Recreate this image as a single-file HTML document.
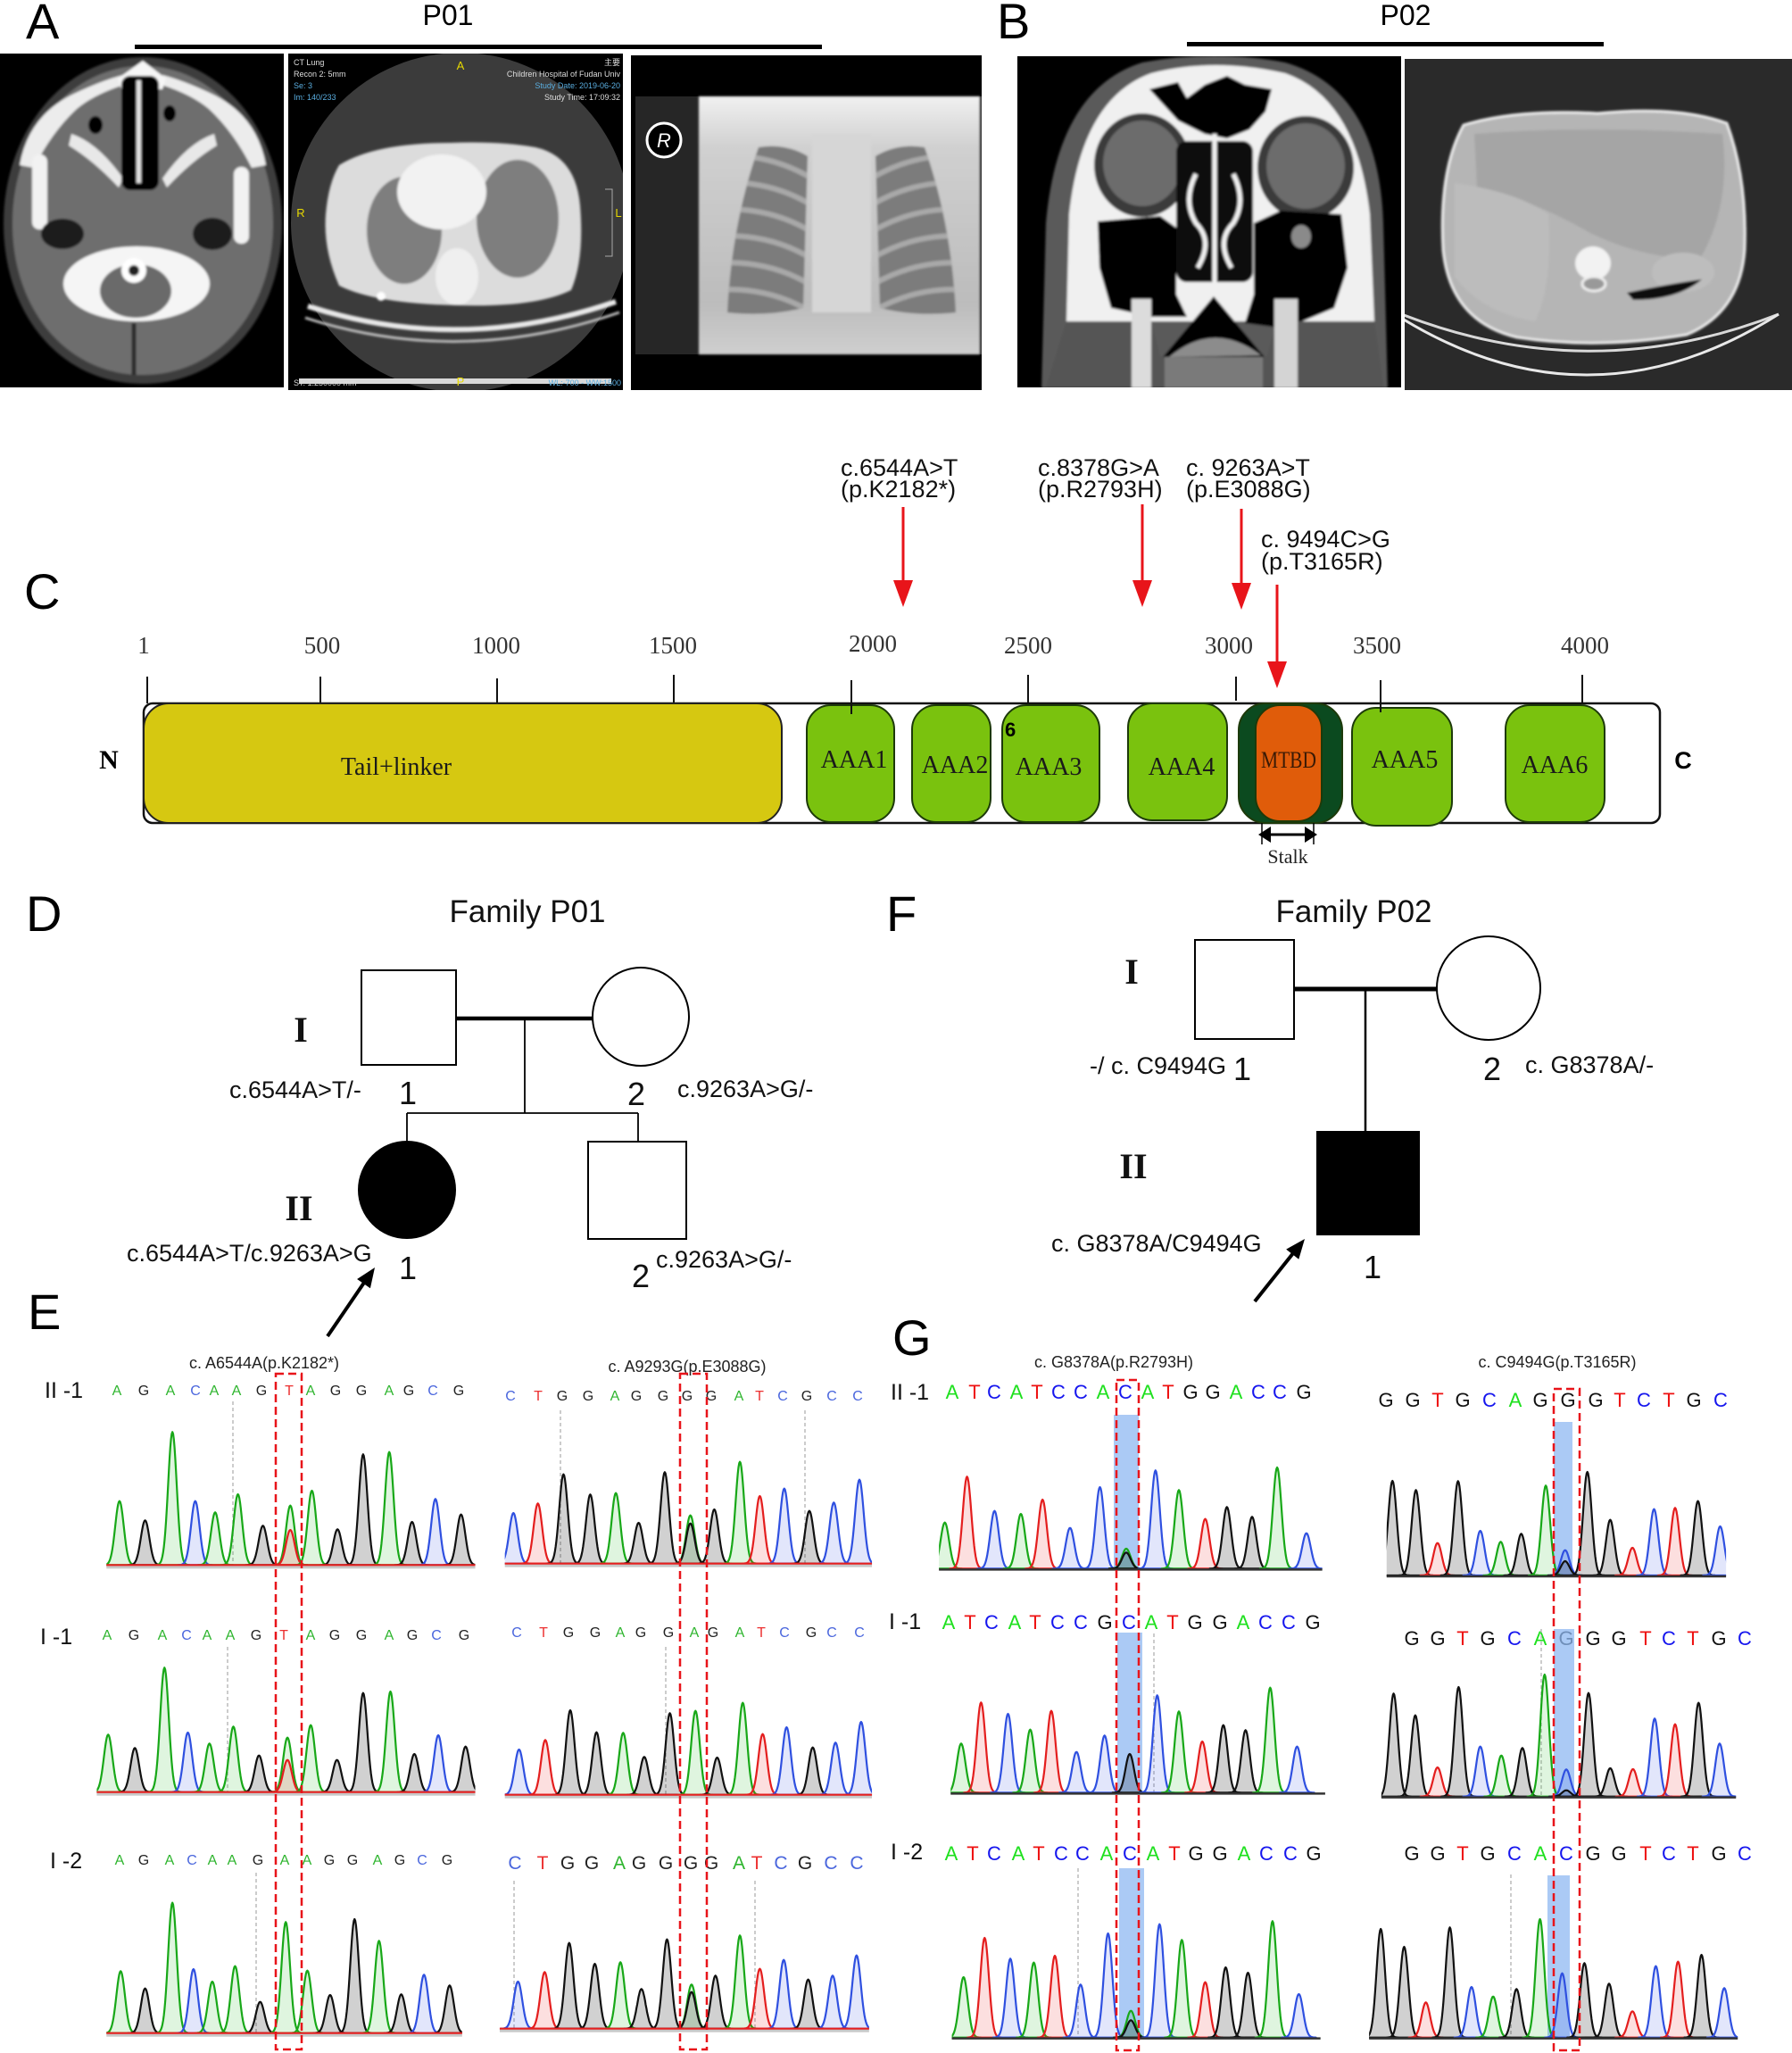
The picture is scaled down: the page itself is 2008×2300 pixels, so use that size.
<!DOCTYPE html>
<html><head><meta charset="utf-8">
<style>
html,body{margin:0;padding:0;background:#fff;}
svg{display:block;}
.s{font-family:"Liberation Sans",Arial,sans-serif;}
.t{font-family:"Liberation Serif","Times New Roman",serif;}
.ea{fill:#2fb52f}.et{fill:#ec3030}.ec{fill:#4a66dd}.eg{fill:#222}
.ga{fill:#1ee01e}.gt{fill:#ee1111}.gc{fill:#1515ee}.gg{fill:#111}
</style></head><body>
<svg id="main" xmlns="http://www.w3.org/2000/svg" width="2008" height="2300" viewBox="0 0 2008 2300">
<defs id="defs">
 <clipPath id="cA1"><rect x="0" y="60" width="318" height="374"/></clipPath>
 <clipPath id="cA2"><rect x="323" y="60" width="375" height="377"/></clipPath>
 <clipPath id="cA3"><rect x="707" y="62" width="393" height="375"/></clipPath>
 <clipPath id="cB1"><rect x="1140" y="63" width="430" height="371"/></clipPath>
 <clipPath id="cB2"><rect x="1574" y="66" width="434" height="371"/></clipPath>
 <clipPath id="lungs">
  <path d="M850,165 Q820,250 815,350 Q860,355 900,345 L905,175 Q880,160 850,165 Z"/>
  <path d="M1036,165 Q1066,250 1071,350 Q1026,355 986,345 L981,175 Q1006,160 1036,165 Z"/>
 </clipPath>
 <filter id="bl1" x="-5%" y="-5%" width="110%" height="110%"><feGaussianBlur stdDeviation="1.3"/></filter>
 <filter id="bl3" x="-10%" y="-10%" width="120%" height="120%"><feGaussianBlur stdDeviation="4"/></filter>
 <linearGradient id="xr" x1="0" y1="0" x2="0" y2="1">
  <stop offset="0" stop-color="#f0f0f0"/><stop offset="0.2" stop-color="#d0d0d0"/><stop offset="0.8" stop-color="#bcbcbc"/><stop offset="1" stop-color="#cfcfcf"/>
 </linearGradient>
</defs>
<rect width="2008" height="2300" fill="#fff"/>

<!-- ===== Panel A ===== -->
<text x="29" y="43" class="s" font-size="56" fill="#000">A</text>
<text x="502" y="28" class="s" font-size="32" text-anchor="middle" fill="#000">P01</text>
<rect x="151" y="50" width="770" height="5" fill="#000"/>

<g clip-path="url(#cA1)">
 <rect x="0" y="60" width="318" height="374" fill="#000"/>
 <g filter="url(#bl1)">
  <path d="M160,64 C250,64 316,150 316,250 C316,355 250,430 160,430 C70,430 4,355 4,250 C4,150 70,64 160,64 Z" fill="#3e3e3e"/>
  <path d="M160,74 C244,74 306,155 306,250 C306,348 244,420 160,420 C76,420 14,348 14,250 C14,155 76,74 160,74 Z" fill="#6e6e6e"/>
  <path d="M22,185 Q32,128 85,104 Q115,90 138,84 L139,95 Q105,106 86,122 Q58,148 38,188 Z" fill="#ececec"/>
  <path d="M298,185 Q288,128 235,104 Q205,90 182,84 L181,95 Q215,106 234,122 Q262,148 282,188 Z" fill="#ececec"/>
  <path d="M80,150 Q110,160 138,200 L133,210 Q105,180 77,163 Z" fill="#e8e8e8"/>
  <path d="M240,150 Q210,160 182,200 L187,210 Q215,180 243,163 Z" fill="#e8e8e8"/>
  <path d="M132,88 L160,68 L186,88 L182,100 L136,100 Z" fill="#f6f6f6"/>
  <rect x="136" y="85" width="42" height="128" rx="10" fill="#050505"/>
  <rect x="153" y="90" width="5" height="115" fill="#e0e0e0"/>
  <rect x="36" y="173" width="17" height="84" rx="8" fill="#f2f2f2"/>
  <rect x="262" y="187" width="17" height="86" rx="8" fill="#f2f2f2"/>
  <ellipse cx="107" cy="140" rx="8" ry="10" fill="#000"/>
  <ellipse cx="190" cy="127" rx="7" ry="9" fill="#000"/>
  <ellipse cx="70" cy="262" rx="24" ry="17" fill="#1c1c1c"/>
  <ellipse cx="238" cy="262" rx="22" ry="18" fill="#1c1c1c"/>
  <ellipse cx="153" cy="318" rx="82" ry="42" fill="#f5f5f5"/>
  <ellipse cx="152" cy="326" rx="40" ry="30" fill="#6a6a6a"/>
  <circle cx="150" cy="303" r="14" fill="#fff"/>
  <circle cx="150" cy="303" r="6" fill="#222"/>
  <path d="M150,362 L150,420" stroke="#2a2a2a" stroke-width="5"/>
 </g>
</g>

<g clip-path="url(#cA2)">
 <rect x="323" y="60" width="375" height="377" fill="#000"/>
 <ellipse cx="516" cy="249" rx="190" ry="190" fill="#3b3b3b"/>
 <g filter="url(#bl1)">
  <path d="M380,185 Q420,160 505,160 Q560,158 600,165 Q645,175 650,230 Q655,290 640,325 Q600,345 510,342 Q420,340 380,320 Q362,280 365,240 Q368,205 380,185 Z" fill="#dcdcdc"/>
  <ellipse cx="453" cy="258" rx="42" ry="60" fill="#7e7e7e"/>
  <ellipse cx="580" cy="245" rx="46" ry="66" fill="#7e7e7e"/>
  <ellipse cx="495" cy="215" rx="50" ry="42" fill="#f2f2f2"/>
  <ellipse cx="512" cy="310" rx="24" ry="32" fill="#efefef"/>
  <path d="M345,343 Q515,398 690,338" stroke="#e8e8e8" stroke-width="6" fill="none"/>
  <path d="M342,356 Q515,412 694,350" stroke="#bdbdbd" stroke-width="3" fill="none"/>
  <circle cx="427" cy="332" r="5" fill="#fff"/>
 </g>
 <rect x="335" y="424" width="350" height="6" fill="#d8d8d8"/>
 <g class="s" font-size="9" fill="#ddd">
  <text x="329" y="73">CT Lung</text>
  <text x="329" y="86">Recon 2: 5mm</text>
  <text x="329" y="99" fill="#5aaee0">Se: 3</text>
  <text x="329" y="112" fill="#5aaee0">Im: 140/233</text>
  <text x="695" y="73" text-anchor="end" font-family="'Liberation Sans','Noto Sans CJK SC',sans-serif">主要</text>
  <text x="695" y="86" text-anchor="end">Children Hospital of Fudan Univ</text>
  <text x="695" y="99" text-anchor="end" fill="#5aaee0">Study Date: 2019-06-20</text>
  <text x="695" y="112" text-anchor="end">Study Time: 17:09:32</text>
  <text x="329" y="432">ST: 1.250000 mm</text>
  <text x="696" y="432" text-anchor="end" fill="#5aaee0">WL:-700 - WW:1500</text>
 </g>
 <g class="s" font-size="13" fill="#e6d800" text-anchor="middle">
  <text x="516" y="78">A</text><text x="337" y="243">R</text><text x="693" y="243">L</text><text x="516" y="432">P</text>
 </g>
 <path d="M678,212 L686,212 L686,287 L678,287" stroke="#aaa" stroke-width="1" fill="none"/>
</g>

<g clip-path="url(#cA3)">
 <rect x="707" y="62" width="393" height="375" fill="#000"/>
 <rect x="712" y="108" width="388" height="289" fill="#262626"/>
 <g filter="url(#bl1)">
  <rect x="783" y="108" width="315" height="289" fill="url(#xr)"/>
  <path d="M850,165 Q820,250 815,350 Q860,355 900,345 L905,175 Q880,160 850,165 Z" fill="#7b7b7b"/>
  <path d="M1036,165 Q1066,250 1071,350 Q1026,355 986,345 L981,175 Q1006,160 1036,165 Z" fill="#7b7b7b"/>
  <g clip-path="url(#lungs)" stroke="#a9a9a9" stroke-width="6" fill="none">
   <path d="M800,175 Q860,170 910,200"/><path d="M800,205 Q860,200 910,230"/><path d="M800,235 Q860,230 910,260"/>
   <path d="M800,265 Q860,260 910,290"/><path d="M800,295 Q860,290 910,320"/><path d="M800,325 Q860,320 910,350"/>
   <path d="M1086,175 Q1026,170 976,200"/><path d="M1086,205 Q1026,200 976,230"/><path d="M1086,235 Q1026,230 976,260"/>
   <path d="M1086,265 Q1026,260 976,290"/><path d="M1086,295 Q1026,290 976,320"/><path d="M1086,325 Q1026,320 976,350"/>
  </g>
  <rect x="910" y="150" width="66" height="200" fill="#d6d6d6"/>
 </g>
 <circle cx="744" cy="157" r="19" fill="#000" stroke="#fff" stroke-width="3"/>
 <text x="744" y="165" class="s" font-size="22" font-style="italic" fill="#fff" text-anchor="middle">R</text>
</g>

<!-- ===== Panel B ===== -->
<text x="1117" y="43" class="s" font-size="56" fill="#000">B</text>
<text x="1575" y="28" class="s" font-size="32" text-anchor="middle" fill="#000">P02</text>
<rect x="1330" y="47" width="467" height="5" fill="#000"/>

<g clip-path="url(#cB1)">
 <rect x="1140" y="63" width="430" height="371" fill="#000"/>
 <g filter="url(#bl1)">
  <path d="M1167,435 L1172,250 Q1185,100 1280,70 Q1360,55 1440,70 Q1545,100 1550,250 L1555,435 Z" fill="#5a5a5a"/>
  <path d="M1195,360 L1198,240 Q1212,110 1290,82 Q1360,64 1440,82 Q1520,110 1535,240 L1540,360 Z" fill="#f0f0f0"/>
  <ellipse cx="1280" cy="185" rx="54" ry="58" fill="#3a3a3a"/>
  <ellipse cx="1280" cy="183" rx="44" ry="48" fill="#6c6c6c"/>
  <ellipse cx="1463" cy="188" rx="54" ry="58" fill="#3a3a3a"/>
  <ellipse cx="1463" cy="186" rx="44" ry="48" fill="#6c6c6c"/>
  <path d="M1288,100 L1320,92 L1330,110 L1350,95 L1375,85 L1395,95 L1425,100 L1418,125 L1400,145 L1375,155 L1350,150 L1320,135 Z" fill="#000"/>
  <rect x="1318" y="158" width="86" height="158" rx="12" fill="#0a0a0a"/>
  <g stroke="#f0f0f0" stroke-width="5" fill="none">
   <path d="M1340,195 Q1325,225 1340,250 Q1360,270 1342,300"/>
   <path d="M1382,195 Q1397,225 1382,250 Q1362,270 1380,300"/>
   <path d="M1361,150 L1361,318"/>
  </g>
  <path d="M1230,248 L1300,242 L1318,255 L1318,330 L1330,355 L1290,355 L1245,345 L1232,300 Z" fill="#000"/>
  <path d="M1503,240 L1435,236 L1405,250 L1405,330 L1395,362 L1440,368 L1495,345 L1510,300 Z" fill="#000"/>
  <ellipse cx="1458" cy="265" rx="11" ry="13" fill="#8a8a8a"/>
  <path d="M1303,400 L1360,332 L1417,400 Z" fill="#000"/>
  <path d="M1310,400 Q1360,358 1413,398 Z" fill="#8c8c8c"/>
  <path d="M1195,360 L1290,360 L1300,400 L1420,400 L1430,360 L1540,360 L1550,435 L1172,435 Z" fill="#555"/>
  <rect x="1268" y="335" width="22" height="100" fill="#dcdcdc"/>
  <rect x="1428" y="335" width="26" height="100" fill="#d4d4d4"/>
  <rect x="1305" y="400" width="110" height="35" fill="#7a7a7a"/>
 </g>
</g>

<g clip-path="url(#cB2)">
 <rect x="1574" y="66" width="434" height="371" fill="#2a2a2a"/>
 <g filter="url(#bl1)">
  <path d="M1640,140 Q1700,122 1790,127 Q1880,118 1935,138 Q1958,200 1955,280 Q1950,350 1890,375 Q1790,392 1700,378 Q1625,360 1617,280 Q1612,190 1640,140 Z" fill="#b5b5b5" stroke="#ececec" stroke-width="3"/>
  <path d="M1652,150 Q1780,140 1930,150 Q1940,230 1905,290 Q1840,290 1780,260 Q1720,225 1655,210 Z" fill="#a5a5a5"/>
  <path d="M1630,205 Q1700,215 1735,240 Q1740,320 1720,360 Q1660,350 1630,310 Z" fill="#bcbcbc"/>
  <ellipse cx="1886" cy="305" rx="35" ry="22" fill="#bdbdbd"/>
  <ellipse cx="1785" cy="295" rx="20" ry="19" fill="#f2f2f2"/>
  <ellipse cx="1786" cy="318" rx="13" ry="8" fill="#999" stroke="#eee" stroke-width="3"/>
  <path d="M1823,328 Q1870,318 1907,313 Q1880,336 1830,336 Z" fill="#111"/>
 </g>
 <path d="M1573,353 Q1783,434 1993,352" stroke="#d8d8d8" stroke-width="3" fill="none"/>
 <path d="M1573,358 Q1783,485 1993,352" stroke="#e8e8e8" stroke-width="3" fill="none"/>
</g>

<!-- ===== Panel C ===== -->
<text x="27" y="682" class="s" font-size="56" fill="#000">C</text>
<g class="s" font-size="27" fill="#111">
 <text x="942" y="533">c.6544A&gt;T</text><text x="942" y="557">(p.K2182*)</text>
 <text x="1163" y="533">c.8378G&gt;A</text><text x="1163" y="557">(p.R2793H)</text>
 <text x="1329" y="533">c. 9263A&gt;T</text><text x="1329" y="557">(p.E3088G)</text>
 <text x="1413" y="613">c. 9494C&gt;G</text><text x="1413" y="638">(p.T3165R)</text>
</g>
<g stroke="#e8141a" stroke-width="3" fill="#e8141a">
 <line x1="1012" y1="568" x2="1012" y2="655"/><polygon points="1001,650 1023,650 1012,680" stroke="none"/>
 <line x1="1280" y1="565" x2="1280" y2="655"/><polygon points="1269,650 1291,650 1280,680" stroke="none"/>
 <line x1="1391" y1="570" x2="1391" y2="658"/><polygon points="1380,653 1402,653 1391,683" stroke="none"/>
 <line x1="1431" y1="655" x2="1431" y2="746"/><polygon points="1420,741 1442,741 1431,771" stroke="none"/>
</g>
<g class="t" font-size="27" fill="#333" text-anchor="middle">
 <text x="161" y="732">1</text><text x="361" y="732">500</text><text x="556" y="732">1000</text><text x="754" y="732">1500</text>
 <text x="978" y="730">2000</text><text x="1152" y="732">2500</text><text x="1377" y="732">3000</text><text x="1543" y="732">3500</text><text x="1776" y="732">4000</text>
</g>
<rect x="161" y="788" width="1699" height="134" rx="10" fill="#fff" stroke="#111" stroke-width="2.5"/>
<g stroke="#111" stroke-width="2">
 <line x1="165" y1="758" x2="165" y2="788"/><line x1="359" y1="758" x2="359" y2="790"/><line x1="557" y1="760" x2="557" y2="794"/>
 <line x1="755" y1="756" x2="755" y2="788"/><line x1="954" y1="762" x2="954" y2="792"/><line x1="1152" y1="756" x2="1152" y2="788"/>
 <line x1="1385" y1="758" x2="1385" y2="785"/><line x1="1547" y1="762" x2="1547" y2="794"/><line x1="1773" y1="756" x2="1773" y2="788"/>
</g>
<rect x="161" y="788" width="715" height="134" rx="28" fill="#d6c811" stroke="#222" stroke-width="2"/>
<g fill="#7ac20e" stroke="#1d3a0a" stroke-width="2">
 <rect x="904" y="790" width="98" height="131" rx="27"/>
 <rect x="1022" y="790" width="88" height="131" rx="27"/>
 <rect x="1123" y="790" width="109" height="131" rx="27"/>
 <rect x="1264" y="788" width="111" height="131" rx="27"/>
 <rect x="1388" y="788" width="116" height="134" rx="30" fill="#0b4a1f"/>
 <rect x="1407" y="790" width="74" height="130" rx="27" fill="#e05c0a"/>
 <rect x="1515" y="793" width="112" height="132" rx="27"/>
 <rect x="1687" y="790" width="111" height="131" rx="27"/>
</g>
<line x1="954" y1="788" x2="954" y2="800" stroke="#111" stroke-width="2"/>
<line x1="1547" y1="790" x2="1547" y2="798" stroke="#111" stroke-width="2"/>
<g class="t" font-size="28" fill="#1a1a1a" text-anchor="middle">
 <text x="444" y="868">Tail+linker</text>
 <text x="957" y="860">AAA1</text><text x="1070" y="866">AAA2</text><text x="1175" y="868">AAA3</text>
 <text x="1324" y="868">AAA4</text>
 <text x="1444" y="860" font-size="26" fill="#3a1a05" textLength="62" lengthAdjust="spacingAndGlyphs">MTBD</text>
 <text x="1574" y="860">AAA5</text><text x="1742" y="866">AAA6</text>
</g>
<text x="1126" y="825" class="s" font-size="22" font-weight="bold" fill="#000">6</text>
<text x="122" y="861" class="t" font-size="30" font-weight="bold" fill="#000" text-anchor="middle">N</text>
<text x="1886" y="861" class="s" font-size="27" font-weight="bold" fill="#000" text-anchor="middle">C</text>
<g fill="#000">
 <line x1="1418" y1="935" x2="1468" y2="935" stroke="#000" stroke-width="3"/>
 <polygon points="1410,935 1424,926 1424,944"/><polygon points="1476,935 1462,926 1462,944"/>
 <line x1="1414" y1="922" x2="1414" y2="946" stroke="#000" stroke-width="1.5"/>
 <line x1="1472" y1="922" x2="1472" y2="946" stroke="#000" stroke-width="1.5"/>
</g>
<text x="1443" y="967" class="t" font-size="22" fill="#222" text-anchor="middle">Stalk</text>

<!-- ===== Panel D ===== -->
<text x="29" y="1043" class="s" font-size="56" fill="#000">D</text>
<text x="591" y="1033" class="s" font-size="35" text-anchor="middle" fill="#111">Family P01</text>
<rect x="405" y="1087" width="106" height="106" fill="#fff" stroke="#000" stroke-width="2"/>
<ellipse cx="718" cy="1139" rx="54" ry="55" fill="#fff" stroke="#000" stroke-width="2"/>
<line x1="511" y1="1141" x2="664" y2="1141" stroke="#000" stroke-width="4.5"/>
<line x1="588" y1="1141" x2="588" y2="1247" stroke="#000" stroke-width="1.8"/>
<line x1="456" y1="1247" x2="715" y2="1247" stroke="#000" stroke-width="1.8"/>
<line x1="456" y1="1247" x2="456" y2="1279" stroke="#000" stroke-width="1.8"/>
<line x1="715" y1="1247" x2="715" y2="1279" stroke="#000" stroke-width="1.8"/>
<ellipse cx="456" cy="1333" rx="55" ry="55" fill="#000"/>
<rect x="659" y="1279" width="110" height="109" fill="#fff" stroke="#000" stroke-width="2"/>
<g class="t" font-size="40" font-weight="bold" fill="#111" text-anchor="middle">
 <text x="337" y="1167">I</text><text x="335" y="1367">II</text>
</g>
<g class="s" font-size="27" fill="#111">
 <text x="257" y="1230">c.6544A&gt;T/-</text>
 <text x="759" y="1229">c.9263A&gt;G/-</text>
 <text x="142" y="1413">c.6544A&gt;T/c.9263A&gt;G</text>
 <text x="735" y="1420">c.9263A&gt;G/-</text>
</g>
<g class="s" font-size="36" fill="#111" text-anchor="middle">
 <text x="457" y="1237">1</text><text x="713" y="1238">2</text>
 <text x="457" y="1433">1</text><text x="718" y="1442">2</text>
</g>
<line x1="367" y1="1497" x2="410" y2="1434" stroke="#000" stroke-width="4"/>
<polygon points="420,1420 414.9,1443.2 400.1,1433" fill="#000"/>

<!-- ===== Panel F ===== -->
<text x="993" y="1043" class="s" font-size="56" fill="#000">F</text>
<text x="1517" y="1033" class="s" font-size="35" text-anchor="middle" fill="#111">Family P02</text>
<rect x="1339" y="1053" width="111" height="111" fill="#fff" stroke="#000" stroke-width="2"/>
<ellipse cx="1668" cy="1107" rx="58" ry="58" fill="#fff" stroke="#000" stroke-width="2"/>
<line x1="1450" y1="1108" x2="1610" y2="1108" stroke="#000" stroke-width="5"/>
<line x1="1530" y1="1108" x2="1530" y2="1268" stroke="#000" stroke-width="2.5"/>
<rect x="1475" y="1267" width="116" height="117" fill="#000"/>
<g class="t" font-size="40" font-weight="bold" fill="#111" text-anchor="middle">
 <text x="1268" y="1102">I</text><text x="1270" y="1320">II</text>
</g>
<g class="s" font-size="27" fill="#111">
 <text x="1221" y="1203">-/ c. C9494G</text>
 <text x="1709" y="1202">c. G8378A/-</text>
 <text x="1178" y="1402">c. G8378A/C9494G</text>
</g>
<g class="s" font-size="36" fill="#111" text-anchor="middle">
 <text x="1392" y="1210">1</text><text x="1672" y="1210">2</text><text x="1538" y="1432">1</text>
</g>
<line x1="1406" y1="1458" x2="1453" y2="1399" stroke="#000" stroke-width="4"/>
<polygon points="1462,1388 1455.3,1410.8 1441.2,1399.6" fill="#000"/>

<!-- ===== Panel E ===== -->
<text x="31" y="1489" class="s" font-size="56" fill="#000">E</text>
<text x="1000" y="1518" class="s" font-size="56" fill="#000">G</text>
<g class="s" font-size="18" fill="#222" text-anchor="middle">
 <text x="296" y="1533">c. A6544A(p.K2182*)</text>
 <text x="770" y="1537">c. A9293G(p.E3088G)</text>
 <text x="1248" y="1532">c. G8378A(p.R2793H)</text>
 <text x="1745" y="1532">c. C9494G(p.T3165R)</text>
</g>
<g class="s" font-size="25" fill="#111">
 <text x="50" y="1566">II -1</text><text x="45" y="1842">I -1</text><text x="56" y="2093">I -2</text>
 <text x="998" y="1568">II -1</text><text x="996" y="1825">I -1</text><text x="998" y="2083">I -2</text>
</g>

<!-- E sequences -->
<g class="s" font-size="16" text-anchor="middle">
<text y="1563"><tspan x="131" class="ea">A</tspan><tspan x="161" class="eg">G</tspan><tspan x="191" class="ea">A</tspan><tspan x="219" class="ec">C</tspan><tspan x="240" class="ea">A</tspan><tspan x="265" class="ea">A</tspan><tspan x="293" class="eg">G</tspan><tspan x="324" class="et">T</tspan><tspan x="348" class="ea">A</tspan><tspan x="376" class="eg">G</tspan><tspan x="405" class="eg">G</tspan><tspan x="436" class="ea">A</tspan><tspan x="458" class="eg">G</tspan><tspan x="485" class="ec">C</tspan><tspan x="514" class="eg">G</tspan></text>
<text y="1569"><tspan x="572" class="ec">C</tspan><tspan x="603" class="et">T</tspan><tspan x="630" class="eg">G</tspan><tspan x="659" class="eg">G</tspan><tspan x="689" class="ea">A</tspan><tspan x="713" class="eg">G</tspan><tspan x="743" class="eg">G</tspan><tspan x="770" class="eg">G</tspan><tspan x="797" class="eg">G</tspan><tspan x="828" class="ea">A</tspan><tspan x="851" class="et">T</tspan><tspan x="877" class="ec">C</tspan><tspan x="904" class="eg">G</tspan><tspan x="932" class="ec">C</tspan><tspan x="961" class="ec">C</tspan></text>
<text y="1837"><tspan x="120" class="ea">A</tspan><tspan x="150" class="eg">G</tspan><tspan x="182" class="ea">A</tspan><tspan x="209" class="ec">C</tspan><tspan x="232" class="ea">A</tspan><tspan x="258" class="ea">A</tspan><tspan x="287" class="eg">G</tspan><tspan x="318" class="et">T</tspan><tspan x="348" class="ea">A</tspan><tspan x="375" class="eg">G</tspan><tspan x="405" class="eg">G</tspan><tspan x="436" class="ea">A</tspan><tspan x="462" class="eg">G</tspan><tspan x="489" class="ec">C</tspan><tspan x="520" class="eg">G</tspan></text>
<text y="1834"><tspan x="579" class="ec">C</tspan><tspan x="609" class="et">T</tspan><tspan x="637" class="eg">G</tspan><tspan x="667" class="eg">G</tspan><tspan x="695" class="ea">A</tspan><tspan x="718" class="eg">G</tspan><tspan x="749" class="eg">G</tspan><tspan x="778" class="ea">A</tspan><tspan x="799" class="eg">G</tspan><tspan x="829" class="ea">A</tspan><tspan x="853" class="et">T</tspan><tspan x="879" class="ec">C</tspan><tspan x="909" class="eg">G</tspan><tspan x="932" class="ec">C</tspan><tspan x="963" class="ec">C</tspan></text>
<text y="2089"><tspan x="134" class="ea">A</tspan><tspan x="161" class="eg">G</tspan><tspan x="190" class="ea">A</tspan><tspan x="215" class="ec">C</tspan><tspan x="238" class="ea">A</tspan><tspan x="260" class="ea">A</tspan><tspan x="289" class="eg">G</tspan><tspan x="319" class="ea">A</tspan><tspan x="344" class="ea">A</tspan><tspan x="369" class="eg">G</tspan><tspan x="395" class="eg">G</tspan><tspan x="423" class="ea">A</tspan><tspan x="448" class="eg">G</tspan><tspan x="473" class="ec">C</tspan><tspan x="501" class="eg">G</tspan></text>
<text y="2094" font-size="21"><tspan x="577" class="ec">C</tspan><tspan x="608" class="et">T</tspan><tspan x="636" class="eg">G</tspan><tspan x="663" class="eg">G</tspan><tspan x="694" class="ea">A</tspan><tspan x="716" class="eg">G</tspan><tspan x="746" class="eg">G</tspan><tspan x="774" class="eg">G</tspan><tspan x="797" class="eg">G</tspan><tspan x="828" class="ea">A</tspan><tspan x="848" class="et">T</tspan><tspan x="875" class="ec">C</tspan><tspan x="902" class="eg">G</tspan><tspan x="931" class="ec">C</tspan><tspan x="960" class="ec">C</tspan></text>
</g>

<!-- G sequences -->
<g class="s" font-size="22" text-anchor="middle">
<text y="1567"><tspan x="1067" class="ga">A</tspan><tspan x="1092" class="gt">T</tspan><tspan x="1114" class="gc">C</tspan><tspan x="1139" class="ga">A</tspan><tspan x="1162" class="gt">T</tspan><tspan x="1186" class="gc">C</tspan><tspan x="1211" class="gc">C</tspan><tspan x="1236" class="ga">A</tspan><tspan x="1261" class="gc">C</tspan><tspan x="1286" class="ga">A</tspan><tspan x="1309" class="gt">T</tspan><tspan x="1334" class="gg">G</tspan><tspan x="1359" class="gg">G</tspan><tspan x="1385" class="ga">A</tspan><tspan x="1410" class="gc">C</tspan><tspan x="1434" class="gc">C</tspan><tspan x="1461" class="gg">G</tspan></text>
<text y="1576"><tspan x="1553" class="gg">G</tspan><tspan x="1583" class="gg">G</tspan><tspan x="1611" class="gt">T</tspan><tspan x="1639" class="gg">G</tspan><tspan x="1669" class="gc">C</tspan><tspan x="1698" class="ga">A</tspan><tspan x="1726" class="gg">G</tspan><tspan x="1757" class="gg">G</tspan><tspan x="1788" class="gg">G</tspan><tspan x="1815" class="gt">T</tspan><tspan x="1842" class="gc">C</tspan><tspan x="1870" class="gt">T</tspan><tspan x="1898" class="gg">G</tspan><tspan x="1928" class="gc">C</tspan></text>
<text y="1825"><tspan x="1063" class="ga">A</tspan><tspan x="1087" class="gt">T</tspan><tspan x="1111" class="gc">C</tspan><tspan x="1137" class="ga">A</tspan><tspan x="1160" class="gt">T</tspan><tspan x="1185" class="gc">C</tspan><tspan x="1211" class="gc">C</tspan><tspan x="1238" class="gg">G</tspan><tspan x="1265" class="gc">C</tspan><tspan x="1290" class="ga">A</tspan><tspan x="1314" class="gt">T</tspan><tspan x="1339" class="gg">G</tspan><tspan x="1367" class="gg">G</tspan><tspan x="1393" class="ga">A</tspan><tspan x="1418" class="gc">C</tspan><tspan x="1444" class="gc">C</tspan><tspan x="1471" class="gg">G</tspan></text>
<text y="1843"><tspan x="1582" class="gg">G</tspan><tspan x="1611" class="gg">G</tspan><tspan x="1639" class="gt">T</tspan><tspan x="1667" class="gg">G</tspan><tspan x="1697" class="gc">C</tspan><tspan x="1726" class="ga">A</tspan><tspan x="1755" class="gg">G</tspan><tspan x="1785" class="gg">G</tspan><tspan x="1814" class="gg">G</tspan><tspan x="1844" class="gt">T</tspan><tspan x="1870" class="gc">C</tspan><tspan x="1897" class="gt">T</tspan><tspan x="1926" class="gg">G</tspan><tspan x="1955" class="gc">C</tspan></text>
<text y="2084"><tspan x="1066" class="ga">A</tspan><tspan x="1090" class="gt">T</tspan><tspan x="1114" class="gc">C</tspan><tspan x="1141" class="ga">A</tspan><tspan x="1164" class="gt">T</tspan><tspan x="1189" class="gc">C</tspan><tspan x="1213" class="gc">C</tspan><tspan x="1240" class="ga">A</tspan><tspan x="1266" class="gc">C</tspan><tspan x="1292" class="ga">A</tspan><tspan x="1316" class="gt">T</tspan><tspan x="1340" class="gg">G</tspan><tspan x="1367" class="gg">G</tspan><tspan x="1394" class="ga">A</tspan><tspan x="1419" class="gc">C</tspan><tspan x="1446" class="gc">C</tspan><tspan x="1472" class="gg">G</tspan></text>
<text y="2084"><tspan x="1582" class="gg">G</tspan><tspan x="1611" class="gg">G</tspan><tspan x="1639" class="gt">T</tspan><tspan x="1667" class="gg">G</tspan><tspan x="1697" class="gc">C</tspan><tspan x="1726" class="ga">A</tspan><tspan x="1755" class="gc">C</tspan><tspan x="1785" class="gg">G</tspan><tspan x="1814" class="gg">G</tspan><tspan x="1844" class="gt">T</tspan><tspan x="1870" class="gc">C</tspan><tspan x="1897" class="gt">T</tspan><tspan x="1926" class="gg">G</tspan><tspan x="1955" class="gc">C</tspan></text>
</g>

<!-- blue highlights (G) -->
<g fill="#8fb8f2" opacity="0.75">
 <rect x="1248" y="1585" width="28" height="172"/>
 <rect x="1741" y="1593" width="21" height="172"/>
 <rect x="1252" y="1829" width="28" height="179"/>
 <rect x="1741" y="1825" width="23" height="187"/>
 <rect x="1254" y="2093" width="28" height="190"/>
 <rect x="1734" y="2101" width="25" height="182"/>
</g>
<!-- dotted gray guides -->
<g stroke="#bbb" stroke-width="1.5" stroke-dasharray="4 3">
 <line x1="261" y1="1570" x2="261" y2="1753"/>
 <line x1="628" y1="1580" x2="628" y2="1752"/><line x1="902" y1="1580" x2="902" y2="1752"/>
 <line x1="255" y1="1845" x2="255" y2="2008"/><line x1="746" y1="1845" x2="746" y2="2010"/>
 <line x1="287" y1="2098" x2="287" y2="2278"/><line x1="576" y1="2107" x2="576" y2="2273"/><line x1="846" y1="2107" x2="846" y2="2273"/>
 <line x1="1293" y1="1830" x2="1293" y2="2008"/><line x1="1727" y1="1825" x2="1727" y2="2012"/>
 <line x1="1208" y1="2093" x2="1208" y2="2283"/><line x1="1693" y1="2100" x2="1693" y2="2283"/>
</g>

<g id="peaks"></g>
<g id="bases"></g>

<!-- red dashed boxes -->
<g fill="none" stroke="#e8141a" stroke-width="2.5" stroke-dasharray="9 5">
 <rect x="309" y="1539" width="29" height="757"/>
 <rect x="762" y="1539" width="30" height="757"/>
 <rect x="1251" y="1546" width="25" height="751"/>
 <rect x="1741" y="1556" width="29" height="741"/>
</g>
</svg>
<script>
(function(){
var NS='http://www.w3.org/2000/svg';
var defs=document.getElementById('defs');
var PG=document.getElementById('peaks'), BG=document.getElementById('bases');
var COL={g:['#18a818','rgba(40,190,40,0.15)'],k:['#111111','rgba(0,0,0,0.18)'],b:['#2f50e0','rgba(60,90,230,0.15)'],r:['#e41e1e','rgba(235,40,40,0.15)']};
var E7={ox:0,fx:1.568,oy:1440},E9={ox:0,fx:1.568,oy:1780},G8={ox:980,fx:1.525,oy:1440},G10={ox:980,fx:1.525,oy:1780};
var charts=[
 {m:E7,zb:940,z0:187,z1:835,t:'E',p:[[210,725,'g'],[255,790,'k'],[303,493,'g'],[343,725,'b'],[378,763,'g'],[418,702,'g'],[462,808,'k'],[510,740,'g'],[510,822,'r'],[548,690,'g'],[593,820,'k'],[638,568,'k'],[684,560,'g'],[724,795,'k'],[765,718,'b'],[810,770,'k']]},
 {m:E7,zb:935,z0:887,z1:1532,t:'E',p:[[902,765,'b'],[945,733,'r'],[990,635,'k'],[1037,703,'k'],[1082,698,'g'],[1122,798,'k'],[1168,628,'k'],[1213,773,'g'],[1213,800,'k'],[1255,753,'k'],[1300,593,'g'],[1335,708,'r'],[1378,683,'b'],[1422,758,'k'],[1465,730,'b'],[1510,653,'b']]},
 {m:E9,zb:683,z0:170,z1:835,t:'E',p:[[190,490,'g'],[237,535,'k'],[289,265,'g'],[330,483,'b'],[368,520,'g'],[410,463,'g'],[455,560,'k'],[505,500,'g'],[505,575,'r'],[546,458,'g'],[592,575,'k'],[638,350,'k'],[686,345,'g'],[728,555,'k'],[770,492,'b'],[818,530,'k']]},
 {m:E9,zb:692,z0:887,z1:1532,t:'E',p:[[912,540,'b'],[958,508,'r'],[1002,408,'k'],[1048,482,'k'],[1095,484,'g'],[1132,565,'k'],[1177,418,'k'],[1222,410,'g'],[1260,567,'k'],[1305,383,'g'],[1340,488,'r'],[1382,465,'b'],[1428,533,'k'],[1468,517,'b'],[1513,447,'b']]},
 {m:E9,zb:1493,z0:187,z1:812,t:'E',p:[[212,1285,'g'],[255,1343,'k'],[303,1055,'g'],[340,1278,'b'],[373,1320,'g'],[413,1268,'g'],[457,1388,'k'],[502,1120,'g'],[540,1283,'g'],[580,1365,'k'],[623,1110,'k'],[666,1183,'g'],[705,1363,'k'],[745,1297,'b'],[790,1333,'k']]},
 {m:E9,zb:1478,z0:878,z1:1527,t:'E',p:[[910,1320,'b'],[957,1288,'r'],[1000,1190,'k'],[1045,1260,'k'],[1090,1255,'g'],[1127,1345,'k'],[1172,1178,'k'],[1215,1330,'g'],[1215,1355,'k'],[1257,1300,'k'],[1300,1165,'g'],[1335,1277,'r'],[1377,1247,'b'],[1420,1313,'k'],[1463,1300,'b'],[1505,1232,'b']]},
 {m:G8,zb:952,z0:110,z1:765,t:'G',p:[[120,797,'g'],[158,643,'r'],[205,758,'b'],[250,768,'g'],[287,720,'r'],[334,815,'b'],[385,678,'b'],[430,885,'g'],[430,898,'k'],[480,622,'b'],[520,688,'g'],[565,785,'r'],[602,745,'k'],[645,778,'k'],[688,612,'g'],[738,833,'b']]},
 {m:G8,zb:975,z0:875,z1:1455,t:'G',p:[[885,657,'k'],[925,688,'k'],[962,866,'r'],[997,658,'k'],[1035,825,'b'],[1070,862,'g'],[1105,835,'k'],[1147,673,'g'],[1180,890,'b'],[1180,927,'k'],[1218,627,'k'],[1257,788,'k'],[1295,882,'r'],[1332,752,'b'],[1368,748,'r'],[1407,725,'k'],[1445,810,'b']]},
 {m:G10,zb:685,z0:130,z1:770,t:'G',p:[[148,520,'g'],[182,382,'r'],[228,420,'b'],[266,473,'g'],[302,410,'r'],[345,548,'b'],[393,493,'b'],[436,555,'k'],[483,358,'b'],[520,412,'g'],[560,513,'r'],[596,458,'k'],[634,475,'k'],[676,332,'g'],[722,530,'b']]},
 {m:G10,zb:698,z0:866,z1:1472,t:'G',p:[[887,352,'k'],[924,425,'k'],[962,600,'r'],[998,330,'k'],[1035,530,'b'],[1071,560,'g'],[1107,535,'k'],[1145,288,'g'],[1182,607,'b'],[1182,677,'k'],[1220,350,'k'],[1257,603,'k'],[1296,606,'r'],[1333,436,'b'],[1368,455,'r'],[1408,383,'k'],[1444,520,'b']]},
 {m:G10,zb:1508,z0:132,z1:762,t:'G',p:[[152,1305,'g'],[188,1173,'r'],[232,1243,'b'],[272,1256,'g'],[308,1233,'r'],[352,1330,'b'],[399,1158,'b'],[438,1418,'g'],[438,1450,'k'],[487,1127,'b'],[525,1180,'g'],[565,1322,'r'],[600,1272,'k'],[638,1290,'k'],[680,1117,'g'],[725,1362,'b']]},
 {m:G10,zb:1508,z0:845,z1:1475,t:'G',p:[[865,1143,'k'],[905,1203,'k'],[942,1390,'r'],[983,1138,'k'],[1020,1338,'b'],[1057,1370,'g'],[1097,1345,'k'],[1137,1110,'g'],[1175,1292,'b'],[1213,1258,'k'],[1255,1327,'k'],[1295,1420,'r'],[1335,1268,'b'],[1373,1253,'r'],[1413,1230,'k'],[1452,1342,'b']]}
];
function el(n,a){var e=document.createElementNS(NS,n);for(var k in a)e.setAttribute(k,a[k]);return e;}
charts.forEach(function(c,i){
 var m=c.m, base=m.oy+c.zb/3, x0=m.ox+c.z0/m.fx, x1=m.ox+c.z1/m.fx;
 var cp=el('clipPath',{id:'chc'+i}); cp.appendChild(el('rect',{x:x0,y:base-300,width:x1-x0,height:301})); defs.appendChild(cp);
 var g=el('g',{'clip-path':'url(#chc'+i+')'});
 var s=4.8;
 c.p.forEach(function(p){
  var x=m.ox+p[0]/m.fx, h=(c.zb-p[1])/3, col=COL[p[2]];
  var d='M'+(x-4*s).toFixed(1)+','+base.toFixed(1);
  for(var t=-4*s;t<=4*s+0.01;t+=0.8){d+=' L'+(x+t).toFixed(1)+','+(base-h*Math.exp(-t*t/(2*s*s))).toFixed(1);}
  d+=' Z';
  g.appendChild(el('path',{d:d,fill:col[1],stroke:col[0],'stroke-width':2.2,'stroke-linejoin':'round'}));
 });
 PG.appendChild(g);
 if(c.t==='E'){
  BG.appendChild(el('rect',{x:x0,y:base,width:x1-x0,height:4,fill:'#c8c8c8'}));
  BG.appendChild(el('line',{x1:x0,y1:base,x2:x1,y2:base,stroke:'#e52020','stroke-width':2.2}));
 } else {
  BG.appendChild(el('line',{x1:x0,y1:base+1,x2:x1,y2:base+1,stroke:'#333','stroke-width':2.5}));
 }
});
})();
</script>
</body></html>
